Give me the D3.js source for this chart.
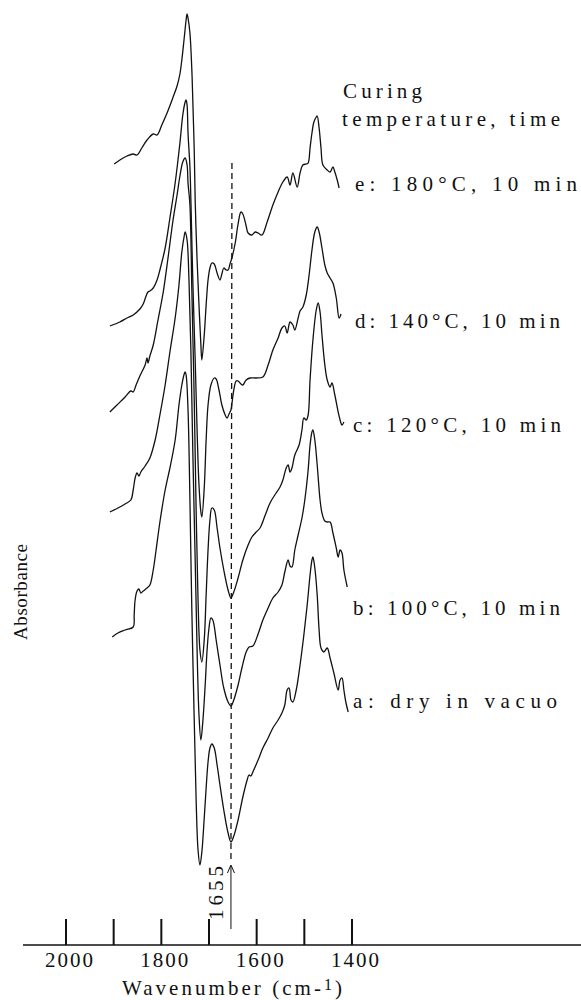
<!DOCTYPE html>
<html>
<head>
<meta charset="utf-8">
<script src="https://cdn.jsdelivr.net/npm/d3@7"></script>
<style>
  html, body { margin: 0; padding: 0; background: #fff; }
  svg { display: block; }
  text { font-family: "Liberation Serif", "DejaVu Serif", serif; fill: #111; }
</style>
</head>
<body>
<svg id="chart" width="581" height="1000"></svg>
<script>
// IR spectra of films cured at different temperatures, stacked with vertical offsets.
// Each point: [wavenumber (cm-1), absorbance (a.u., offset included)]
const spectrumE = [[1899,7.81],[1887,7.85],[1872,7.89],[1859,7.91],[1851,7.90],[1841,7.97],[1830,8.05],[1817,8.11],[1809,8.10],[1799,8.20],[1788,8.32],[1776,8.47],[1767,8.59],[1761,8.71],[1757,8.85],[1752,9.07],[1748,9.25],[1746,9.31],[1744,9.27],[1740,9.12],[1736,8.75],[1734,8.45],[1731,7.95],[1729,7.45],[1725,6.85],[1721,6.40],[1717,6.00],[1715,5.85],[1710,6.10],[1706,6.40],[1702,6.65],[1698,6.77],[1694,6.82],[1689,6.81],[1683,6.72],[1677,6.65],[1673,6.71],[1669,6.77],[1664,6.75],[1660,6.75],[1656,6.81],[1652,6.87],[1645,7.02],[1639,7.21],[1633,7.33],[1629,7.31],[1622,7.19],[1618,7.12],[1610,7.10],[1603,7.13],[1597,7.12],[1589,7.10],[1578,7.23],[1566,7.40],[1555,7.53],[1545,7.63],[1536,7.68],[1530,7.60],[1524,7.72],[1515,7.58],[1509,7.72],[1503,7.80],[1496,7.81],[1492,7.82],[1488,7.97],[1484,8.12],[1480,8.23],[1475,8.28],[1473,8.29],[1469,8.17],[1465,7.97],[1461,7.80],[1452,7.75],[1446,7.73],[1440,7.78],[1436,7.73],[1431,7.65],[1427,7.57]];

const spectrumD = [[1908,6.19],[1887,6.23],[1872,6.27],[1859,6.30],[1845,6.36],[1838,6.41],[1832,6.49],[1828,6.53],[1824,6.54],[1817,6.57],[1809,6.65],[1803,6.75],[1792,6.97],[1782,7.27],[1771,7.62],[1761,8.02],[1755,8.30],[1750,8.43],[1748,8.45],[1746,8.40],[1744,8.12],[1740,7.78],[1738,7.45],[1734,6.65],[1729,5.85],[1725,5.15],[1721,4.60],[1717,4.33],[1715,4.28],[1710,4.57],[1706,5.05],[1702,5.40],[1696,5.60],[1689,5.67],[1685,5.66],[1679,5.55],[1673,5.40],[1666,5.30],[1662,5.27],[1658,5.31],[1654,5.35],[1652,5.41],[1648,5.55],[1643,5.64],[1639,5.64],[1633,5.61],[1629,5.60],[1622,5.65],[1614,5.67],[1601,5.67],[1587,5.68],[1576,5.80],[1566,5.95],[1555,6.07],[1547,6.17],[1541,6.19],[1536,6.12],[1530,6.23],[1524,6.20],[1520,6.15],[1513,6.27],[1509,6.34],[1503,6.38],[1496,6.50],[1490,6.70],[1484,6.95],[1478,7.13],[1473,7.18],[1469,7.13],[1463,6.97],[1457,6.80],[1452,6.72],[1446,6.67],[1440,6.62],[1433,6.47],[1427,6.27],[1423,6.31]];

const spectrumC = [[1908,5.33],[1893,5.40],[1876,5.48],[1864,5.54],[1859,5.53],[1853,5.60],[1845,5.69],[1834,5.80],[1830,5.87],[1828,5.82],[1824,5.89],[1817,6.00],[1807,6.25],[1796,6.53],[1786,6.87],[1776,7.23],[1767,7.50],[1761,7.69],[1755,7.83],[1750,7.87],[1746,7.80],[1744,7.62],[1740,7.40],[1736,6.55],[1731,5.45],[1727,4.35],[1723,3.45],[1719,2.95],[1715,2.83],[1710,3.05],[1706,3.50],[1702,3.95],[1698,4.25],[1694,4.37],[1689,4.35],[1683,4.17],[1677,3.97],[1669,3.75],[1660,3.55],[1654,3.47],[1648,3.53],[1639,3.67],[1629,3.85],[1618,4.00],[1610,4.08],[1601,4.13],[1593,4.17],[1582,4.30],[1572,4.42],[1562,4.50],[1551,4.58],[1545,4.65],[1538,4.77],[1534,4.80],[1530,4.73],[1526,4.77],[1520,4.90],[1511,5.00],[1505,5.15],[1501,5.27],[1496,5.25],[1492,5.30],[1488,5.65],[1482,6.05],[1475,6.35],[1471,6.42],[1467,6.33],[1463,6.10],[1457,5.80],[1452,5.65],[1446,5.58],[1442,5.62],[1436,5.50],[1429,5.33],[1425,5.25],[1421,5.20],[1417,5.23]];

const spectrumB = [[1908,4.33],[1891,4.37],[1876,4.41],[1864,4.45],[1859,4.55],[1855,4.67],[1851,4.72],[1847,4.69],[1843,4.73],[1834,4.79],[1824,4.87],[1813,5.05],[1803,5.30],[1792,5.60],[1782,5.93],[1771,6.27],[1763,6.60],[1757,6.93],[1752,7.09],[1750,7.13],[1746,7.05],[1742,6.65],[1738,5.95],[1734,4.95],[1729,3.85],[1725,2.95],[1721,2.30],[1717,2.05],[1713,2.23],[1708,2.60],[1704,2.95],[1700,3.17],[1696,3.27],[1692,3.25],[1685,3.05],[1677,2.80],[1669,2.57],[1660,2.43],[1654,2.39],[1648,2.45],[1639,2.60],[1631,2.77],[1622,2.93],[1616,2.98],[1608,2.99],[1597,3.11],[1587,3.25],[1576,3.37],[1566,3.47],[1555,3.53],[1547,3.60],[1541,3.73],[1534,3.85],[1530,3.79],[1526,3.78],[1520,3.95],[1513,4.10],[1505,4.27],[1499,4.45],[1492,4.75],[1488,5.00],[1484,5.13],[1482,5.15],[1478,5.05],[1473,4.80],[1467,4.45],[1463,4.32],[1457,4.24],[1452,4.23],[1446,4.23],[1440,4.12],[1433,3.97],[1429,3.88],[1425,3.95],[1421,3.92],[1417,3.75],[1410,3.58]];

const spectrumA = [[1903,3.08],[1891,3.12],[1876,3.15],[1859,3.18],[1857,3.30],[1855,3.45],[1851,3.54],[1847,3.56],[1843,3.52],[1838,3.54],[1830,3.57],[1824,3.60],[1817,3.75],[1811,3.95],[1803,4.23],[1792,4.55],[1782,4.77],[1771,5.05],[1763,5.40],[1757,5.60],[1752,5.71],[1750,5.73],[1748,5.70],[1744,5.35],[1740,4.45],[1736,3.35],[1731,2.25],[1727,1.45],[1723,0.95],[1719,0.80],[1715,0.93],[1710,1.27],[1706,1.57],[1702,1.83],[1698,1.97],[1694,2.01],[1689,1.97],[1683,1.80],[1677,1.60],[1669,1.35],[1660,1.12],[1654,1.03],[1648,1.09],[1639,1.25],[1629,1.48],[1620,1.65],[1616,1.70],[1612,1.69],[1608,1.73],[1597,1.85],[1587,1.97],[1576,2.07],[1566,2.17],[1555,2.25],[1547,2.32],[1541,2.40],[1536,2.55],[1532,2.57],[1528,2.45],[1524,2.43],[1517,2.55],[1509,2.80],[1501,3.10],[1494,3.40],[1488,3.70],[1484,3.85],[1482,3.88],[1478,3.77],[1473,3.50],[1469,3.15],[1465,2.97],[1459,2.93],[1452,2.97],[1446,2.87],[1438,2.72],[1429,2.55],[1425,2.65],[1421,2.67],[1417,2.55],[1413,2.43],[1408,2.33]];

const spectra = [spectrumE, spectrumD, spectrumC, spectrumB, spectrumA];

// Curve labels: text and the absorbance level of each label's baseline
const curveLabels = ["e: 180°C, 10 min", "d: 140°C, 10 min", "c: 120°C, 10 min", "b: 100°C, 10 min", "a: dry in vacuo"];
const curveLabelLevels = [7.54, 6.17, 5.13, 3.30, 2.37];
const curveLabelWidths = [222, 205, 208, 207, 204];

const legendTitle = ["Curing", "temperature, time"];
const tickValues = [2000, 1900, 1800, 1700, 1600, 1500, 1400];
const tickLabels = [2000, 1800, 1600, 1400];
const markedBand = 1655;

const FONT = 21;
const svg = d3.select("#chart");
const W = 581, H = 1000;
svg.append("rect").attr("width", W).attr("height", H).attr("fill", "#fff");

const x = d3.scaleLinear().domain([2000, 1400]).range([66, 352]);
const y = d3.scaleLinear().domain([0, 9.45]).range([945, 0]);
const baseY = y(0);

// spectra
const line = d3.line()
  .x(d => x(d[0]))
  .y(d => y(d[1]))
  .curve(d3.curveCatmullRom.alpha(0.5));

svg.append("g").selectAll("path")
  .data(spectra)
  .join("path")
  .attr("d", line)
  .attr("fill", "none")
  .attr("stroke", "#111")
  .attr("stroke-width", 1.3)
  .attr("stroke-linejoin", "round");

// dashed marker at 1655 cm-1
const xm = x(markedBand);
svg.append("line")
  .attr("x1", xm + 1.5).attr("x2", xm + 0.5)
  .attr("y1", y(7.82)).attr("y2", y(0.83))
  .attr("stroke", "#111").attr("stroke-width", 1.3)
  .attr("stroke-dasharray", "6,4");

// arrow below the marker
svg.append("line")
  .attr("x1", xm + 0.5).attr("x2", xm + 0.5)
  .attr("y1", baseY - 16).attr("y2", baseY - 79)
  .attr("stroke", "#111").attr("stroke-width", 1);
svg.append("path")
  .attr("d", `M${xm - 3},${baseY - 72} L${xm + 0.5},${baseY - 80} L${xm + 4},${baseY - 72}`)
  .attr("fill", "none").attr("stroke", "#111").attr("stroke-width", 1);
svg.append("text")
  .attr("transform", `translate(${xm - 7},${baseY - 25}) rotate(-90)`)
  .attr("font-size", FONT)
  .attr("textLength", 54).attr("lengthAdjust", "spacing")
  .text(String(markedBand));

// x axis
svg.append("line")
  .attr("x1", 23).attr("x2", W)
  .attr("y1", baseY).attr("y2", baseY)
  .attr("stroke", "#111").attr("stroke-width", 1.5);

svg.append("g").selectAll("line")
  .data(tickValues)
  .join("line")
  .attr("x1", d => x(d)).attr("x2", d => x(d))
  .attr("y1", baseY).attr("y2", baseY - 26)
  .attr("stroke", "#111").attr("stroke-width", 2);

svg.append("g").selectAll("text")
  .data(tickLabels)
  .join("text")
  .attr("x", d => x(d) + 3)
  .attr("y", baseY + 22)
  .attr("text-anchor", "middle")
  .attr("font-size", FONT)
  .attr("textLength", 48).attr("lengthAdjust", "spacing")
  .text(d => d);

// axis titles
const xt = svg.append("text")
  .attr("x", 122).attr("y", baseY + 50)
  .attr("font-size", FONT)
  .attr("textLength", 220).attr("lengthAdjust", "spacing");
xt.append("tspan").text("Wavenumber (cm-");
xt.append("tspan").attr("font-size", 16).attr("dy", -5).text("1");
xt.append("tspan").attr("dy", 5).text(")");

svg.append("text")
  .attr("transform", `translate(27,${y(3.05)}) rotate(-90)`)
  .attr("font-size", 19)
  .attr("textLength", 96).attr("lengthAdjust", "spacing")
  .text("Absorbance");

// legend title
svg.append("text").attr("x", 343).attr("y", 98)
  .attr("font-size", FONT).attr("textLength", 79).attr("lengthAdjust", "spacing")
  .text(legendTitle[0]);
svg.append("text").attr("x", 342).attr("y", 126)
  .attr("font-size", FONT).attr("textLength", 218).attr("lengthAdjust", "spacing")
  .text(legendTitle[1]);

// curve labels
svg.append("g").selectAll("text")
  .data(curveLabels)
  .join("text")
  .attr("x", (d, i) => i === 0 || i === 1 ? 355 : 353)
  .attr("y", (d, i) => y(curveLabelLevels[i]))
  .attr("font-size", FONT)
  .attr("textLength", (d, i) => curveLabelWidths[i])
  .attr("lengthAdjust", "spacing")
  .text(d => d);
</script>
</body>
</html>
